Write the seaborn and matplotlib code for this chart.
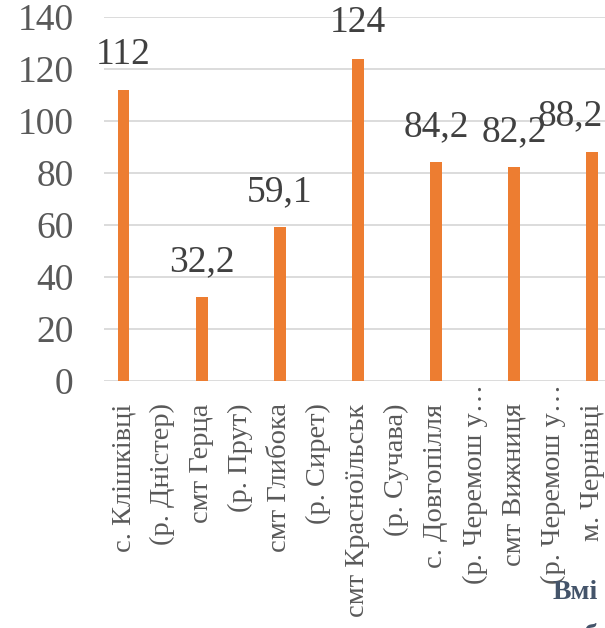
import numpy as np
import pandas as pd
import matplotlib
matplotlib.use("Agg")
import matplotlib.pyplot as plt
import matplotlib.transforms as mtransforms
import seaborn as sns

# -----------------------------
# DATA
# -----------------------------
categories = [
    "с. Клішківці", "(р. Дністер)", "смт Герца", "(р. Прут)",
    "смт Глибока", "(р. Сирет)", "смт Красноїльськ", "(р. Сучава)",
    "с. Довгопілля", "(р. Черемош у…", "смт Вижниця", "(р. Черемош у…",
    "м. Чернівці",
]
values = [112, np.nan, 32.2, np.nan, 59.1, np.nan, 124, np.nan,
          84.2, np.nan, 82.2, np.nan, 88.2]
value_labels = ["112", "", "32,2", "", "59,1", "", "124", "",
                "84,2", "", "82,2", "", "88,2"]
y_ticks = [0, 20, 40, 60, 80, 100, 120, 140]

df = pd.DataFrame({"pos": list(range(len(categories))),
                   "value": np.nan_to_num(values)})

# -----------------------------
# PLOT
# -----------------------------
sns.set_theme(style="white")
plt.rcParams["font.family"] = ["Liberation Serif", "DejaVu Serif"]

fig = plt.figure(figsize=(6.05, 6.28), dpi=100)
ax = fig.add_axes([0.172, 0.393, 0.839, 0.580])

sns.barplot(data=df, x="pos", y="value", color="#ED7D31", width=0.3,
            saturation=1, linewidth=0, ax=ax)

ax.set_ylim(0, 140)
ax.set_xlim(-0.5, len(categories) - 0.5)
ax.set_yticks(y_ticks)
ax.set_yticklabels([str(t) for t in y_ticks], fontsize=27, color="#595959")
ax.set_xticks(range(len(categories)))
# truncated labels (with …) sit higher, right under the axis
ax.set_xticklabels(["" if c.endswith("…") else c for c in categories],
                   rotation=90, fontsize=20.5, color="#595959",
                   va="top", ha="center")
trans = mtransforms.blended_transform_factory(ax.transData, ax.transAxes)
for i, c in enumerate(categories):
    if c.endswith("…"):
        ax.text(i, -0.006, c, transform=trans, rotation=90, fontsize=20.5,
                color="#595959", va="top", ha="center")

ax.tick_params(axis="y", length=0, pad=22)
ax.tick_params(axis="x", length=0, pad=16)
ax.set_xlabel("")
ax.set_ylabel("")
for s in ax.spines.values():
    s.set_visible(False)
ax.yaxis.grid(True, color="#D9D9D9", linewidth=1.3)
ax.set_axisbelow(True)

# value labels above bars (last one pulled left to stay in the chart)
for i, (v, lab) in enumerate(zip(values, value_labels)):
    if not lab:
        continue
    x = i - 0.55 if i == len(categories) - 1 else i
    ax.text(x, v + 7, lab, ha="center", va="bottom", fontsize=27,
            color="#404040")

# cropped heading text at the bottom right
fig.text(0.914, 0.056, "Вмі", fontsize=20, fontweight="bold",
         color="#44546A", va="center", ha="left")
fig.text(0.925, -0.012, "узб", fontsize=20, fontweight="bold",
         color="#44546A", va="center", ha="left")

fig.savefig("out.png", dpi=100)
